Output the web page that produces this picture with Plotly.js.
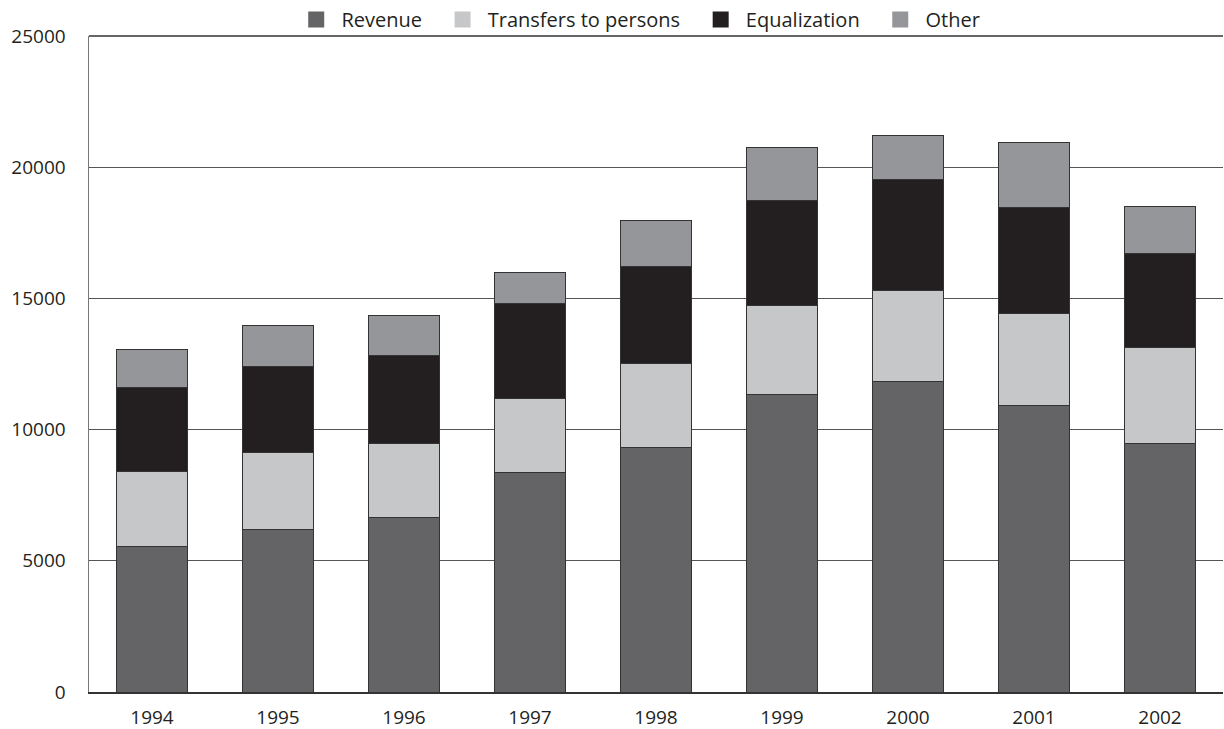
<!DOCTYPE html>
<html>
<head>
<meta charset="utf-8">
<script src="https://cdn.plot.ly/plotly-3.0.1.min.js"></script>
<style>html,body{margin:0;padding:0;background:#fff;}#chart{width:1224px;height:729px;}</style>
</head>
<body>
<div id="chart"></div>
<script>
const years = ["1994","1995","1996","1997","1998","1999","2000","2001","2002"];
const revenue = [5560, 6210, 6660, 8360, 9320, 11350, 11840, 10910, 9480];
const transfers = [2850, 2910, 2800, 2820, 3190, 3370, 3480, 3530, 3640];
const equalization = [3200, 3290, 3380, 3610, 3690, 4030, 4200, 4040, 3600];
const other = [1450, 1550, 1510, 1200, 1750, 2010, 1670, 2470, 1790];
const yTicks = [0, 5000, 10000, 15000, 20000, 25000];

const seriesNames = ["Revenue", "Transfers to persons", "Equalization", "Other"];
const seriesData = [revenue, transfers, equalization, other];
const seriesColors = ["#646466", "#c6c7c9", "#231f20", "#959699"];

const font = "Open Sans, Noto Sans, sans-serif";
const barTraces = seriesData.map((vals, i) => ({
  type: "bar",
  name: seriesNames[i],
  x: years,
  y: vals,
  showlegend: false,
  marker: {color: seriesColors[i], line: {color: "#333333", width: 1}},
  hoverinfo: "y+name"
}));
// legend entries with larger square swatches
const legendTraces = seriesNames.map((nm, i) => ({
  type: "scatter",
  mode: "markers",
  name: "\u00a0" + nm + "\u00a0\u00a0\u00a0",
  x: [null], y: [null],
  marker: {symbol: "square", size: 16, color: seriesColors[i], line: {width: 0}},
  showlegend: true
}));

const layout = {
  width: 1224, height: 729,
  barmode: "stack",
  bargap: 0.44,
  margin: {l: 89, r: 1, t: 36, b: 37, autoexpand: false},
  paper_bgcolor: "#fff",
  plot_bgcolor: "#fff",
  font: {family: font, size: 19, color: "#231f20"},
  showlegend: true,
  legend: {
    orientation: "h",
    xref: "container", yref: "container",
    x: 0.53, xanchor: "center",
    y: 1.0, yanchor: "top",
    bgcolor: "rgba(0,0,0,0)",
    font: {family: font, size: 20, color: "#231f20"},
    itemwidth: 30,
    traceorder: "normal"
  },
  xaxis: {
    type: "category",
    range: [-0.5, 8.5],
    showgrid: false,
    showline: true, linecolor: "#333", linewidth: 1.5,
    ticks: "", ticklabelstandoff: 8,
    tickfont: {family: font, size: 19, color: "#231f20"},
    fixedrange: true
  },
  yaxis: {
    range: [0, 25000],
    tickvals: yTicks,
    ticktext: yTicks.map(String),
    showgrid: true, gridcolor: "#555", gridwidth: 1,
    showline: true, linecolor: "#777", linewidth: 1.5,
    zeroline: false,
    ticks: "", ticklabelstandoff: 18,
    tickfont: {family: font, size: 19, color: "#231f20"},
    fixedrange: true
  },
  shapes: [{
    type: "line", xref: "paper", yref: "paper",
    x0: 0, x1: 1, y0: 1, y1: 1,
    line: {color: "#333", width: 1.5},
    layer: "below"
  }]
};

Plotly.newPlot("chart", barTraces.concat(legendTraces), layout, {displayModeBar: false, staticPlot: true});
</script>
</body>
</html>
